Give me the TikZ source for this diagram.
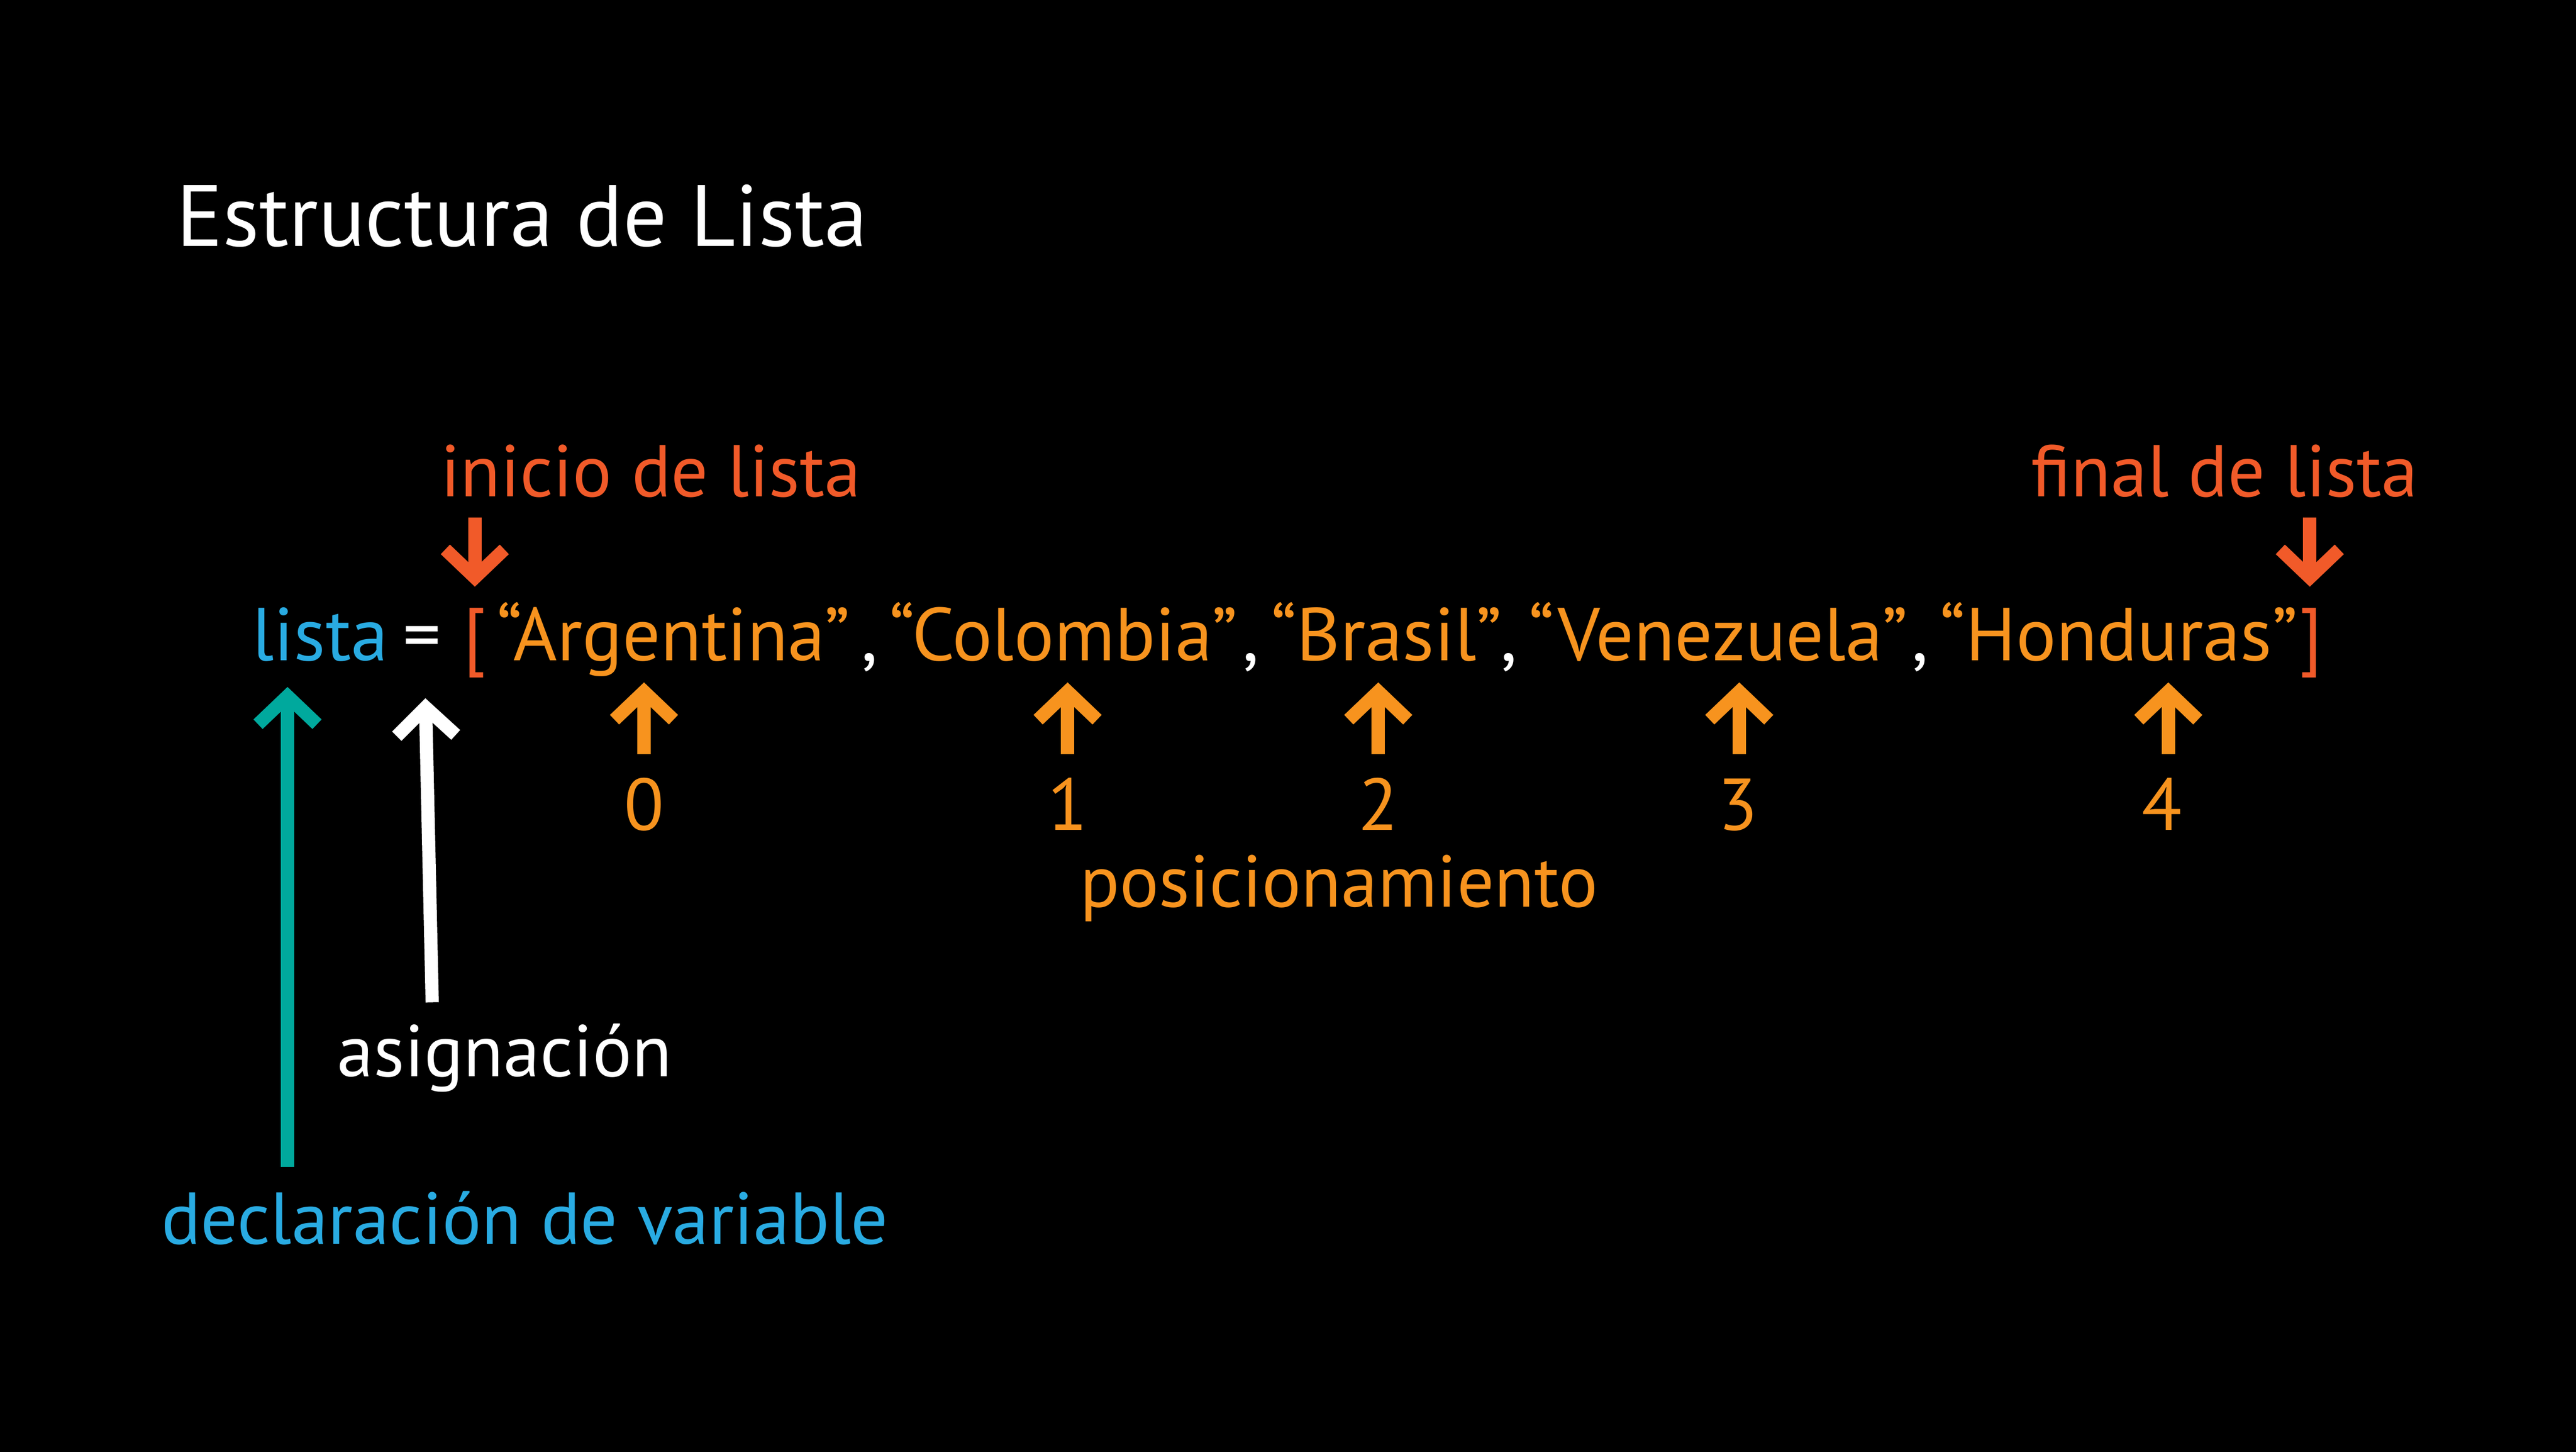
\documentclass[tikz,border=0pt]{standalone}
\usepackage{fontspec}
\setmainfont{PT Sans}
\usepackage{tikz}
\usetikzlibrary{arrows.meta}

\definecolor{varblue}{HTML}{29ABE2}
\definecolor{varteal}{HTML}{00A99D}
\definecolor{listred}{HTML}{F15A29}
\definecolor{listorange}{HTML}{F7931E}

\begin{document}
\begin{tikzpicture}
    \tikzstyle{title}=[inner sep=0pt, text=white, font=\fontsize{54.5}{60}\selectfont]
    \tikzstyle{code}=[inner sep=0pt, font=\fontsize{47}{52}\selectfont]
    \tikzstyle{note}=[inner sep=0pt, font=\fontsize{46}{50}\selectfont]
    \tikzstyle{bigarrow}=[line width=8.3pt,
            -{Straight Barb[length=0.62cm, width=1.3cm,
              line cap=butt, line join=miter]}]

        \fill[black] (0,0) rectangle (56.8,32);
        \useasboundingbox (0,0) rectangle (56.8,32);

        \node[title, anchor=base west] (title) at (3.88,26.57)
        {Estructura de Lista};

        % la linea de codigo
        \node[code, text=varblue, anchor=base] (lista) at (7.06,17.44) {lista};
        \node[code, text=white, anchor=base] (eq) at (9.31,17.44) {=};
        \node[code, text=listred, anchor=base] (open) at (10.47,17.44) {[};
        \node[code, text=listred, anchor=base] (close) at (50.96,17.44) {]};

        \foreach \x/\pais in {14.85/Argentina, 23.45/Colombia, 30.57/Brasil,
                              37.89/Venezuela, 46.72/Honduras}
        {
            \node[code, text=listorange, anchor=base] (p\pais) at (\x,17.44)
            {“\pais”};
        }

        \foreach \pais [count=\k] in {Colombia, Brasil, Venezuela, Honduras}
        {
            \node[code, text=white, anchor=base east, xshift=-0.24cm]
            (coma\k) at (p\pais.base west) {,};
        }

        % posiciones
        \foreach \x/\xa [count=\i from 0] in {14.20/14.20, 23.54/23.54,
                              30.39/30.39, 38.32/38.35, 47.67/47.81}
        {
            \node[note, text=listorange, anchor=base] (n\i) at (\x,13.71) {\i};
            \coordinate (t\i) at (\xa,16.96);
            \coordinate (b\i) at (\xa,15.38);
            \draw[bigarrow, listorange] (b\i) -- (t\i);
        }

        \node[note, text=listorange, anchor=base] (pos) at (29.52,12.01)
        {posicionamiento};

        % inicio y final
        \node[note, text=listred, anchor=base west] (inicio) at (9.71,21.06)
        {inicio de lista};
        \node[note, text=listred, anchor=base east] (final) at (53.32,21.06)
        {final de lista};

        \coordinate (initop) at (10.47,20.59);
        \coordinate (initip) at (10.47,19.07);
        \draw[bigarrow, listred] (initop) -- (initip);

        \coordinate (fintop) at (50.93,20.59);
        \coordinate (fintip) at (50.93,19.07);
        \draw[bigarrow, listred] (fintop) -- (fintip);

        % asignacion y declaracion
        \node[note, text=white, anchor=base west] (asig) at (7.43,8.28)
        {asignación};
        \coordinate (asigfoot) at (9.53,9.91);
        \coordinate (asigtip) at (9.38,16.61);
        \draw[bigarrow, white] (asigfoot) -- (asigtip);

        \node[note, text=varblue, anchor=base west] (decl) at (3.55,4.58)
        {declaración de variable};
        \coordinate (declfoot) at (6.34,6.28);
        \coordinate (decltip) at (6.34,16.86);
        \draw[bigarrow, varteal] (declfoot) -- (decltip);

    \end{tikzpicture}
\end{document}
